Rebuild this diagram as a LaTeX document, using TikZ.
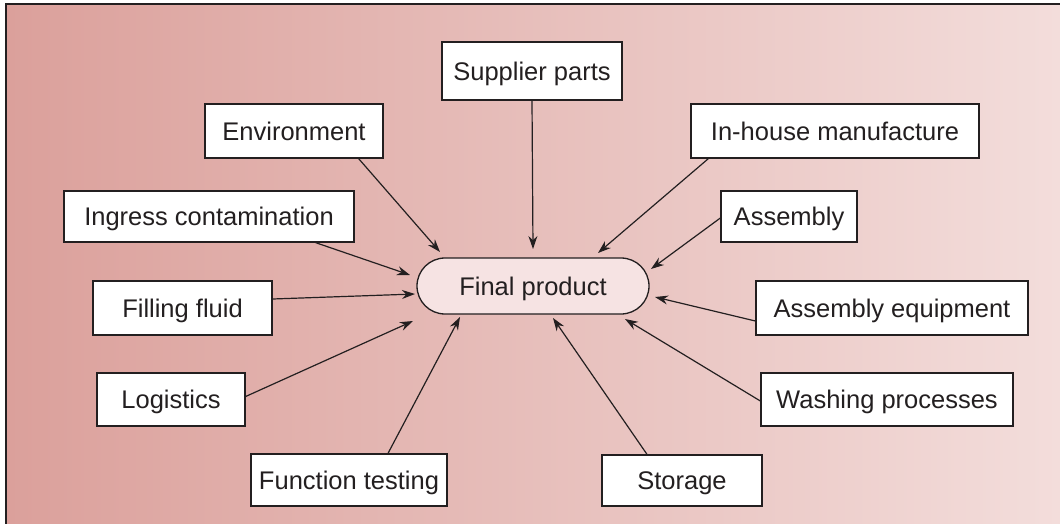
\documentclass[tikz,border=0pt]{standalone}
\usepackage{fontspec}
\setmainfont{Liberation Sans}
\usetikzlibrary{arrows.meta}
\definecolor{bgleft}{RGB}{219,160,155}
\definecolor{bgright}{RGB}{243,221,219}
\definecolor{hubfill}{RGB}{246,227,227}
\definecolor{ink}{RGB}{35,31,32}

\begin{document}
\begin{tikzpicture}[x=1pt, y=-1pt,
    every node/.style={font=\fontsize{25.5}{30}\selectfont, text=ink,
                       text height=18.3pt, text depth=0pt},
    box/.style={draw=ink, line width=1.3pt, fill=white, inner sep=0pt},
    hub/.style={draw=ink, line width=1.3pt, fill=hubfill, inner sep=0pt,
                minimum width=232pt, minimum height=56pt, rounded corners=28pt},
    arr/.style={draw=ink, line width=1.2pt, -{Stealth[length=13pt,width=9pt]}}]
  \useasboundingbox (0,0) rectangle (1060,524);
  %----- 背景 -----
  \shade[left color=bgleft, right color=bgright] (6,4) rectangle (1060,524);
  \draw[ink, line width=1.6pt] (6,524) -- (6,4) -- (1060,4);

  %----- 中心 -----
  \node[hub] (fp) at (533,286) {Final product};

  %----- 周圍方塊 (center, size) -----
  \node[box, minimum width=180pt, minimum height=58pt] (sup)   at (532,71)    {Supplier parts};
  \node[box, minimum width=178pt, minimum height=54pt] (env)   at (294,131)   {Environment};
  \node[box, minimum width=288pt, minimum height=54pt] (inh)   at (835,131)   {In-house manufacture};
  \node[box, minimum width=290pt, minimum height=51pt] (ing)   at (209,216.5) {Ingress contamination};
  \node[box, minimum width=136pt, minimum height=51pt] (asm)   at (789,216.5) {Assembly};
  \node[box, minimum width=179pt, minimum height=54pt] (fill)  at (182.5,308) {Filling fluid};
  \node[box, minimum width=272pt, minimum height=54pt] (aeq)   at (892,308)   {Assembly equipment};
  \node[box, minimum width=148pt, minimum height=53pt] (log)   at (171,399.5) {Logistics};
  \node[box, minimum width=252pt, minimum height=53pt] (wash)  at (887,399.5) {Washing processes};
  \node[box, minimum width=196pt, minimum height=52pt] (ftest) at (349,480)   {Function testing};
  \node[box, minimum width=160pt, minimum height=51pt] (stor)  at (682,480.5) {Storage};

  %----- 箭頭終點 -----
  \coordinate (tSup)   at (533,249);
  \coordinate (tEnv)   at (440,252);
  \coordinate (tInh)   at (598,253);
  \coordinate (tIng)   at (410,275);
  \coordinate (tAsm)   at (651,269);
  \coordinate (tFill)  at (415,294);
  \coordinate (tAeq)   at (655,297);
  \coordinate (tLog)   at (413,321);
  \coordinate (tWash)  at (625,319);
  \coordinate (tFtest) at (460,317);
  \coordinate (tStor)  at (553,318);

  %----- 箭頭 -----
  \draw[arr] (sup.south) -- (tSup);
  \draw[arr] ([xshift=-25pt]env.south east) -- (tEnv);
  \draw[arr] ([xshift=18pt]inh.south west) -- (tInh);
  \draw[arr] ([xshift=-39pt]ing.south east) -- (tIng);
  \draw[arr] ([yshift=-1.5pt]asm.west) -- (tAsm);
  \draw[arr] ([yshift=9pt]fill.east) -- (tFill);
  \draw[arr] ([yshift=-13pt]aeq.west) -- (tAeq);
  \draw[arr] ([yshift=3pt]log.east) -- (tLog);
  \draw[arr] ([yshift=-1.5pt]wash.west) -- (tWash);
  \draw[arr] ([xshift=39pt]ftest.north) -- (tFtest);
  \draw[arr] ([xshift=-35pt]stor.north) -- (tStor);
\end{tikzpicture}
\end{document}
